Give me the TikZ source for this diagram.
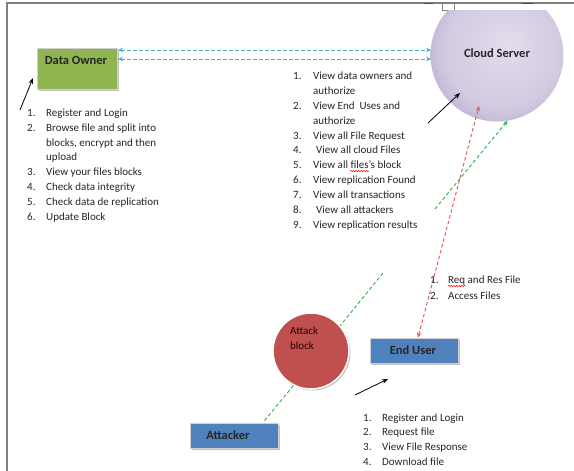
\documentclass[tikz,border=0pt]{standalone}
\usepackage{fontspec}
\setmainfont{Carlito}
\usetikzlibrary{arrows.meta,shadows,decorations.pathmorphing}
\definecolor{txt}{HTML}{262626}
\definecolor{ownergreen}{HTML}{8EB54F}
\definecolor{boxblue}{HTML}{4F81BD}
\definecolor{attred}{HTML}{C0504D}
\definecolor{cloudlight}{HTML}{E3DDED}
\definecolor{cloudmid}{HTML}{D2CAE1}
\definecolor{clouddark}{HTML}{B3A5CB}
\definecolor{dblue}{HTML}{4BACC6}
\definecolor{dred}{HTML}{DE5656}
\definecolor{dgreen}{HTML}{2EAF4E}
\definecolor{framegray}{HTML}{7F7F7F}
\pgfdeclareradialshading{cloudshade}{\pgfpoint{4bp}{4bp}}{color(0bp)=(cloudlight); color(22bp)=(cloudmid); color(34bp)=(clouddark); color(50bp)=(clouddark)}
\begin{document}
\begin{tikzpicture}[x=1pt,y=-1pt,
  listitem/.style={anchor=west, inner sep=0pt, text height=7.5pt, text depth=2pt,
    font=\fontsize{11}{13}\selectfont, text=txt},
  boxlabel/.style={inner sep=0pt, font=\fontsize{12.5}{14}\selectfont\bfseries, text=txt},
  shadowed/.style={drop shadow={shadow xshift=1.5pt, shadow yshift=-1.5pt, fill=black!40, opacity=0.6}},
  userbox/.style={rectangle, fill=boxblue, draw=white!82!black, line width=1pt,
    minimum width=88pt, minimum height=25pt, inner sep=0pt, shadowed},
  dashblue/.style={dblue, dash pattern=on 3.5pt off 2.5pt, line width=0.9pt,
    {Stealth[length=5pt,width=4.5pt]}-{Stealth[length=5pt,width=4.5pt]}},
  dashred/.style={dred, dash pattern=on 3.5pt off 2.5pt, line width=0.9pt},
  dashgreen/.style={dgreen, dash pattern=on 3.5pt off 2.5pt, line width=0.9pt},
  blackarrow/.style={black, line width=0.8pt, -{Stealth[length=6pt,width=4.5pt]}},
  tipA/.style={-{Stealth[length=5pt,width=4.5pt]}},
  spellwave/.style={red, line width=0.5pt, decorate, decoration={snake, amplitude=0.7pt, segment length=2.6pt}}
]
\useasboundingbox (0,0) rectangle (574,471);
\fill[white] (0,0) rectangle (574,471);

% frame
\draw[framegray, line width=1.2pt] (7,471) -- (7,3) -- (574,3);
\draw[black!70, line width=1.2pt] (424,3.5) -- (433,3.5);
\draw[black!70, line width=1.2pt] (522,3.5) -- (533,3.5);
\draw[framegray, fill=white, line width=0.8pt] (442,3) rectangle (454,10);

% cloud server
\begin{scope}
\clip (0,10) rectangle (574,471);
\node[circle, minimum size=133pt, inner sep=0pt, shading=cloudshade] (cloud) at (497,55) {};
\end{scope}
\node[boxlabel] (cloudlbl) at (497,53) {Cloud Server};

% data owner
\node[rectangle, fill=ownergreen, draw=white!82!black, line width=1pt, minimum width=80pt,
  minimum height=41pt, inner sep=0pt, shadowed] (owner) at (77,68.5) {};
\node[boxlabel] (ownerlbl) at (76,60) {Data Owner};

% end user, attacker
\node[userbox] (euser) at (414,350.5) {};
\node[boxlabel] (euserlbl) at (413,350) {End User};
\node[userbox] (att) at (234,435.5) {};
\node[boxlabel] (attlbl) at (228,435) {Attacker};

% attack block
\node[circle, fill=attred, draw=white, line width=1.5pt, minimum size=76pt, inner sep=0pt,
  shadowed] (ab) at (311,351) {};
\node[listitem] (ablbl1) at (290,332) {\textcolor{black!85!red}{Attack}};
\node[listitem] (ablbl2) at (290,347) {\textcolor{black!85!red}{block}};

% connectors
\coordinate (bL1) at (118,50); \coordinate (bR1) at (431,50);
\coordinate (bL2) at (118,59); \coordinate (bR2) at (431,59);
\draw[dashblue] (bL1) -- (bR1);
\draw[dashblue] (bL2) -- (bR2);

\coordinate (redtop) at (479,106);
\draw[dashred, {Stealth[length=5pt,width=4.5pt]}-{Stealth[length=5pt,width=4.5pt]}]
  ([xshift=4pt]euser.north) -- (redtop);

\coordinate (gs1) at (435,209);
\draw[dashgreen, tipA] (gs1) -- (cloud.-81);
\coordinate (gs2) at (383,273);
\draw[dashgreen] (gs2) -- (ab.41);
\draw[dashgreen] (ab.-117) -- ([xshift=29pt]att.north);

\coordinate (k1s) at (20,110); \coordinate (k1e) at (33,78);
\draw[blackarrow] (k1s) -- (k1e);
\coordinate (k2s) at (428,123); \coordinate (k2e) at (460,93);
\draw[blackarrow] (k2s) -- (k2e);
\coordinate (k3s) at (355,395); \coordinate (k3e) at (388,379);
\draw[blackarrow] (k3s) -- (k3e);

% data owner list
\node[listitem] (on1) at (27,114) {1.};
\node[listitem] (ot1) at (46,114) {Register and Login};
\node[listitem] (on2) at (27,129) {2.};
\node[listitem] (ot2) at (46,129) {Browse file and split into};
\node[listitem] (ot2b) at (46,144) {blocks, encrypt and then};
\node[listitem] (ot2c) at (46,158) {upload};
\node[listitem] (on3) at (27,173) {3.};
\node[listitem] (ot3) at (46,173) {View your files blocks};
\node[listitem] (on4) at (27,188) {4.};
\node[listitem] (ot4) at (46,188) {Check data integrity};
\node[listitem] (on5) at (27,203) {5.};
\node[listitem] (ot5) at (46,203) {Check data de replication};
\node[listitem] (on6) at (27,218) {6.};
\node[listitem] (ot6) at (46,218) {Update Block};

% cloud list
\node[listitem] (cn1) at (293,77) {1.};
\node[listitem] (ct1) at (313,77) {View data owners and};
\node[listitem] (ct1b) at (313,92) {authorize};
\node[listitem] (cn2) at (293,107) {2.};
\node[listitem] (ct2) at (313,107) {View End\ \ Uses and};
\node[listitem] (ct2b) at (313,122) {authorize};
\node[listitem] (cn3) at (293,137) {3.};
\node[listitem] (ct3) at (313,137) {View all File Request};
\node[listitem] (cn4) at (293,151) {4.};
\node[listitem] (ct4) at (316,151) {View all cloud Files};
\node[listitem] (cn5) at (293,166) {5.};
\node[listitem] (ct5) at (313,166) {View all files's block};
\node[listitem] (cn6) at (293,181) {6.};
\node[listitem] (ct6) at (313,181) {View replication Found};
\node[listitem] (cn7) at (293,196) {7.};
\node[listitem] (ct7) at (313,196) {View all transactions};
\node[listitem] (cn8) at (293,211) {8.};
\node[listitem] (ct8) at (316,211) {View all attackers};
\node[listitem] (cn9) at (293,226) {9.};
\node[listitem] (ct9) at (313,226) {View replication results};
\draw[spellwave] ([xshift=37pt,yshift=-2.3pt]ct5.base west) -- ++(19,0);

% end user request list
\node[listitem] (rn1) at (430,281) {1.};
\node[listitem] (rt1) at (448,281) {Req and Res File};
\node[listitem] (rn2) at (430,297) {2.};
\node[listitem] (rt2) at (448,297) {Access Files};
\draw[spellwave] ([yshift=-2.3pt]rt1.base west) -- ++(17.5,0);

% end user list
\node[listitem] (un1) at (363,419) {1.};
\node[listitem] (ut1) at (382,419) {Register and Login};
\node[listitem] (un2) at (363,433) {2.};
\node[listitem] (ut2) at (382,433) {Request file};
\node[listitem] (un3) at (363,448) {3.};
\node[listitem] (ut3) at (382,448) {View File Response};
\node[listitem] (un4) at (363,463) {4.};
\node[listitem] (ut4) at (382,463) {Download file};
\end{tikzpicture}
\end{document}
